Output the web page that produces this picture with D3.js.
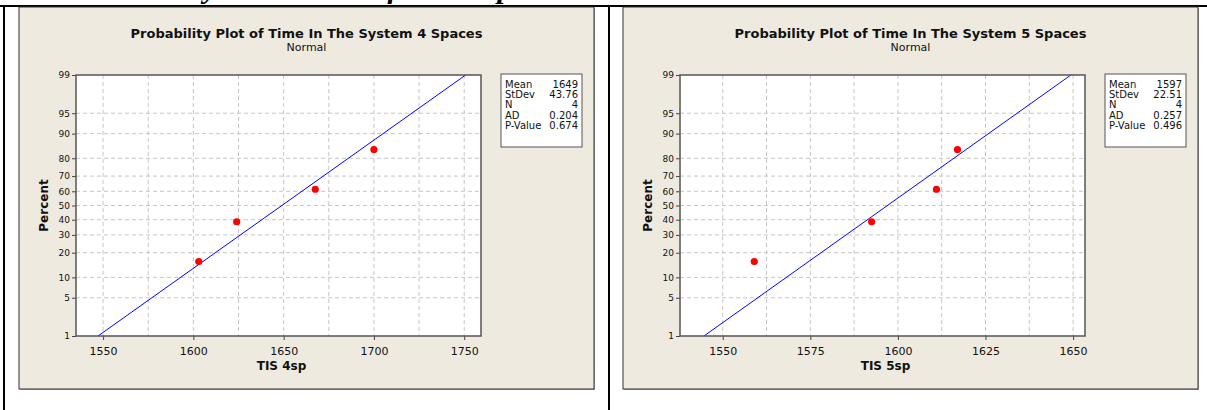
<!DOCTYPE html>
<html>
<head>
<meta charset="utf-8">
<script src="https://cdn.jsdelivr.net/npm/d3@7"></script>
<style>
  body { margin: 0; background: #fff; }
  text { font-family: "DejaVu Sans", Verdana, sans-serif; }
</style>
</head>
<body>
<script>
// data
var percentTicks = [1, 5, 10, 20, 30, 40, 50, 60, 70, 80, 90, 95, 99];
var plotPercents = [15.9, 38.6, 61.4, 84.1];

var tis4 = [1603, 1624, 1667.5, 1700];
var tis4Ticks = [1550, 1600, 1650, 1700, 1750];
var tis4Grid = [1575, 1625, 1675, 1725];
var tis4Stats = ["1649", "43.76", "4", "0.204", "0.674"];

var tis5 = [1559, 1592.5, 1611, 1617];
var tis5Ticks = [1550, 1575, 1600, 1625, 1650];
var tis5Grid = [1562.5, 1587.5, 1612.5, 1637.5];
var tis5Stats = ["1597", "22.51", "4", "0.257", "0.496"];

var statNames = ["Mean", "StDev", "N", "AD", "P-Value"];

var W = 1207, H = 410;
var panelW = 575, panelH = 382;
var plot = {left: 57, top: 68, width: 405, height: 261};

var svg = d3.select("body").append("svg")
    .attr("width", W)
    .attr("height", H);

// inverse normal cdf (Acklam) used for the probability axis
function probit(p) {
    var a = [-3.969683028665376e+01, 2.209460984245205e+02, -2.759285104469687e+02, 1.383577518672690e+02, -3.066479806614716e+01, 2.506628277459239e+00];
    var b = [-5.447609879822406e+01, 1.615858368580409e+02, -1.556989798598866e+02, 6.680131188771972e+01, -1.328068155288572e+01];
    var c = [-7.784894002430293e-03, -3.223964580411365e-01, -2.400758277161838e+00, -2.549732539343734e+00, 4.374664141464968e+00, 2.938163982698783e+00];
    var d = [7.784695709041462e-03, 3.224671290700398e-01, 2.445134137142996e+00, 3.754408661907416e+00];
    var pl = 0.02425, q, r;
    if (p < pl) {
        q = Math.sqrt(-2 * Math.log(p));
        return (((((c[0]*q+c[1])*q+c[2])*q+c[3])*q+c[4])*q+c[5]) / ((((d[0]*q+d[1])*q+d[2])*q+d[3])*q+1);
    }
    if (p <= 1 - pl) {
        q = p - 0.5; r = q * q;
        return (((((a[0]*r+a[1])*r+a[2])*r+a[3])*r+a[4])*r+a[5])*q / (((((b[0]*r+b[1])*r+b[2])*r+b[3])*r+b[4])*r+1);
    }
    q = Math.sqrt(-2 * Math.log(1 - p));
    return -(((((c[0]*q+c[1])*q+c[2])*q+c[3])*q+c[4])*q+c[5]) / ((((d[0]*q+d[1])*q+d[2])*q+d[3])*q+1);
}

// document leftovers: cut heading, table borders
svg.append("text")
    .attr("x", 92)
    .attr("y", -2)
    .style("font-family", "'Liberation Serif', serif")
    .style("font-weight", "bold")
    .style("font-style", "italic")
    .style("font-size", "30px")
    .text("Normality Assessment of the Outputs");

svg.append("rect").attr("x", 0).attr("y", 5).attr("width", W).attr("height", 2).attr("fill", "#000");
svg.append("rect").attr("x", 3).attr("y", 5).attr("width", 2).attr("height", H).attr("fill", "#000");
svg.append("rect").attr("x", 608).attr("y", 5).attr("width", 2).attr("height", H).attr("fill", "#000");

function drawPanel(px, title, xlabel, values, ticks, grid, domain, stats) {
    var g = svg.append("g").attr("transform", "translate(" + px + ",7)");

    // shadow + beige panel
    g.append("rect")
        .attr("x", 1).attr("y", 1)
        .attr("width", panelW).attr("height", panelH)
        .attr("fill", "#a8a8a8");
    g.append("rect")
        .attr("x", 0).attr("y", 0)
        .attr("width", panelW).attr("height", panelH)
        .attr("fill", "#eeeae0")
        .attr("stroke", "#333")
        .attr("stroke-width", 1);

    var x = d3.scaleLinear().domain(domain).range([plot.left, plot.left + plot.width]);
    var zScale = d3.scaleLinear()
        .domain([probit(0.01), probit(0.99)])
        .range([plot.top + plot.height, plot.top]);
    var y = function(p) { return zScale(probit(p / 100)); };

    g.append("rect")
        .attr("x", plot.left).attr("y", plot.top)
        .attr("width", plot.width).attr("height", plot.height)
        .attr("fill", "#fff");

    // dashed grid
    var grid_g = g.append("g").attr("stroke", "#c6c6c6").attr("stroke-dasharray", "4,3");
    grid_g.selectAll(".vg")
        .data(ticks.concat(grid).filter(function(v) { return v > domain[0] && v < domain[1]; }))
        .enter().append("line")
        .attr("x1", function(d) { return x(d); })
        .attr("x2", function(d) { return x(d); })
        .attr("y1", plot.top)
        .attr("y2", plot.top + plot.height);
    grid_g.selectAll(".hg")
        .data(percentTicks.slice(1, -1))
        .enter().append("line")
        .attr("x1", plot.left)
        .attr("x2", plot.left + plot.width)
        .attr("y1", function(d) { return y(d); })
        .attr("y2", function(d) { return y(d); });

    // axes
    var xAxis = d3.axisBottom(x).tickValues(ticks).tickFormat(d3.format("d")).tickSize(4).tickSizeOuter(0);
    var gx = g.append("g")
        .attr("transform", "translate(0," + (plot.top + plot.height) + ")")
        .call(xAxis);
    gx.select(".domain").remove();
    gx.selectAll("line").attr("stroke", "#444");
    gx.selectAll("text")
        .attr("font-family", "DejaVu Sans")
        .attr("font-size", "11px")
        .attr("fill", "#111")
        .attr("dy", "1.05em");

    var yAxis = d3.axisLeft(zScale)
        .tickValues(percentTicks.map(function(p) { return probit(p / 100); }))
        .tickFormat(function(d, i) { return percentTicks[i]; })
        .tickSize(4).tickSizeOuter(0);
    var gy = g.append("g")
        .attr("transform", "translate(" + plot.left + ",0)")
        .call(yAxis);
    gy.select(".domain").remove();
    gy.selectAll("line").attr("stroke", "#444");
    gy.selectAll("text")
        .attr("font-family", "DejaVu Sans")
        .attr("font-size", "9px")
        .attr("fill", "#111")
        .attr("x", -6);

    // fitted normal line from 1% to 99%, using the reported mean and stdev
    var mean = +stats[0], sd = +stats[1];
    g.append("line")
        .attr("x1", x(mean + probit(0.01) * sd))
        .attr("y1", y(1))
        .attr("x2", x(mean + probit(0.99) * sd))
        .attr("y2", y(99))
        .attr("stroke", "#0000ff")
        .attr("stroke-width", 1);

    g.append("rect")
        .attr("x", plot.left).attr("y", plot.top)
        .attr("width", plot.width).attr("height", plot.height)
        .attr("fill", "none")
        .attr("stroke", "#555")
        .attr("stroke-width", 1.5);

    g.selectAll(".dot")
        .data(values)
        .enter().append("circle")
        .attr("cx", function(d) { return x(d); })
        .attr("cy", function(d, i) { return y(plotPercents[i]); })
        .attr("r", 3.6)
        .attr("fill", "#ff0000");

    // titles
    var cx = plot.left + plot.width / 2;
    g.append("text")
        .attr("x", panelW / 2).attr("y", 31)
        .attr("text-anchor", "middle")
        .attr("font-weight", "bold")
        .attr("font-size", "13px")
        .attr("fill", "#111")
        .text(title);
    g.append("text")
        .attr("x", panelW / 2).attr("y", 44)
        .attr("text-anchor", "middle")
        .attr("font-size", "11px")
        .attr("fill", "#111")
        .text("Normal");
    g.append("text")
        .attr("x", cx + 3).attr("y", 363)
        .attr("text-anchor", "middle")
        .attr("font-weight", "bold")
        .attr("font-size", "12px")
        .attr("fill", "#111")
        .text(xlabel);
    g.append("text")
        .attr("transform", "translate(29," + (plot.top + plot.height / 2) + ") rotate(-90)")
        .attr("text-anchor", "middle")
        .attr("font-weight", "bold")
        .attr("font-size", "12px")
        .attr("fill", "#111")
        .text("Percent");

    // stats box
    var lx = 482, ly = 67, lw = 81, lh = 73;
    g.append("rect")
        .attr("x", lx).attr("y", ly)
        .attr("width", lw).attr("height", lh)
        .attr("fill", "#fff")
        .attr("stroke", "#555")
        .attr("stroke-width", 1);
    var rows = g.selectAll(".stat")
        .data(statNames)
        .enter().append("g")
        .attr("transform", function(d, i) { return "translate(0," + (ly + 14 + i * 10.2) + ")"; });
    rows.append("text")
        .attr("x", lx + 4)
        .attr("font-size", "10px")
        .attr("fill", "#111")
        .text(function(d) { return d; });
    rows.append("text")
        .attr("x", lx + lw - 4)
        .attr("text-anchor", "end")
        .attr("font-size", "10px")
        .attr("fill", "#111")
        .text(function(d, i) { return stats[i]; });
}

drawPanel(19, "Probability Plot of Time In The System 4 Spaces", "TIS 4sp",
    tis4, tis4Ticks, tis4Grid, [1535, 1759.3], tis4Stats);
drawPanel(623, "Probability Plot of Time In The System 5 Spaces", "TIS 5sp",
    tis5, tis5Ticks, tis5Grid, [1537.8, 1653.4], tis5Stats);
</script>
</body>
</html>
